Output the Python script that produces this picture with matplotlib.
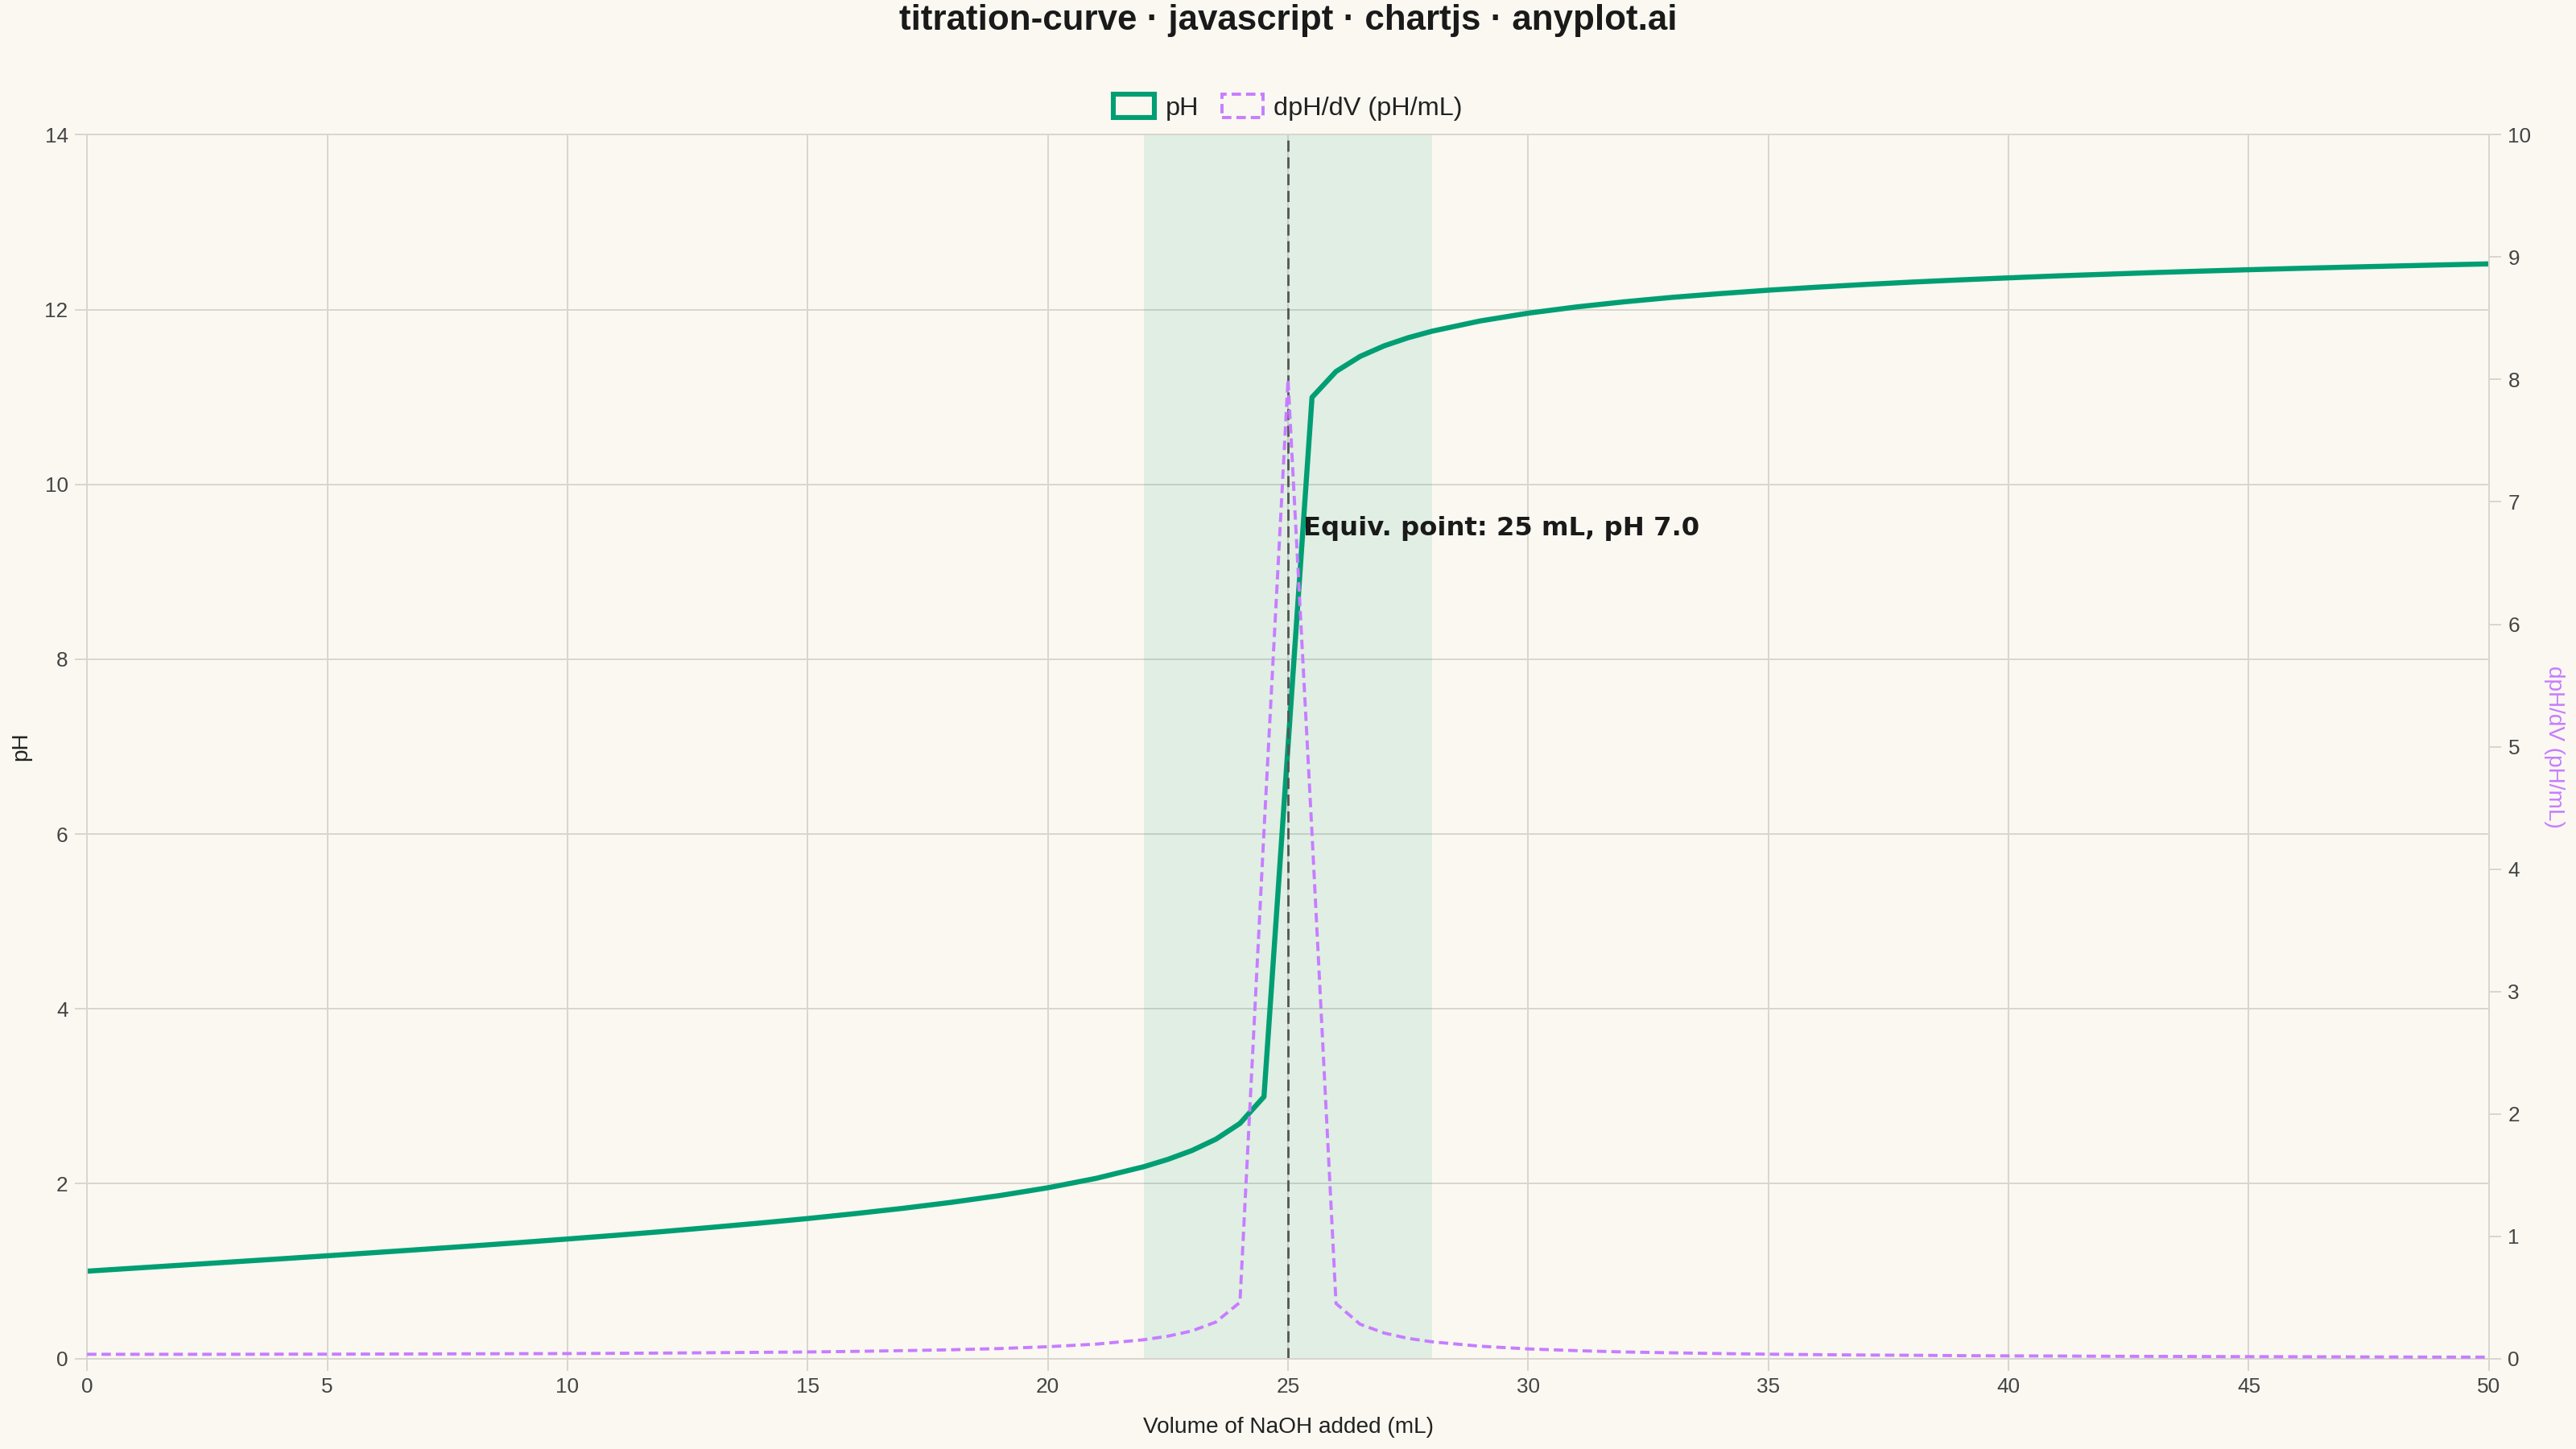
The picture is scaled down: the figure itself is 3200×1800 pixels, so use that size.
import matplotlib
matplotlib.use("Agg")
import matplotlib.pyplot as plt
from matplotlib.patches import Patch

# titration of 25 mL 0.1 M HCl with 0.1 M NaOH
volume = [0, 1, 2, 3, 4, 5, 6, 7, 8, 9, 10, 11, 12, 13, 14, 15, 16, 17, 18, 19, 20, 21, 22,
          22.5, 23, 23.5, 24, 24.5, 25, 25.5, 26, 26.5, 27, 27.5, 28,
          29, 30, 31, 32, 33, 34, 35, 36, 37, 38, 39, 40, 41, 42, 43, 44, 45, 46, 47, 48, 49, 50]
ph = [1.000, 1.035, 1.070, 1.105, 1.140, 1.176, 1.213, 1.250, 1.288, 1.327, 1.368, 1.410,
      1.454, 1.501, 1.550, 1.602, 1.659, 1.720, 1.788, 1.865, 1.954, 2.061, 2.195,
      2.279, 2.380, 2.510, 2.690, 2.996, 7.000, 10.996, 11.292, 11.464, 11.585, 11.678, 11.753,
      11.870, 11.959, 12.030, 12.089, 12.140, 12.183, 12.222, 12.256, 12.287, 12.315, 12.340,
      12.363, 12.385, 12.404, 12.423, 12.440, 12.456, 12.471, 12.485, 12.498, 12.511, 12.523]
dph_dv = [0.035, 0.035, 0.035, 0.035, 0.036, 0.036, 0.037, 0.038, 0.039, 0.040, 0.041, 0.043,
          0.045, 0.048, 0.051, 0.054, 0.059, 0.065, 0.072, 0.082, 0.097, 0.118, 0.154,
          0.183, 0.226, 0.299, 0.460, 4.310, 8.000, 4.290, 0.450, 0.281, 0.209, 0.165, 0.137,
          0.101, 0.079, 0.065, 0.054, 0.047, 0.041, 0.036, 0.032, 0.029, 0.027, 0.024,
          0.022, 0.021, 0.019, 0.018, 0.017, 0.016, 0.015, 0.014, 0.013, 0.012, 0.012]

equiv_volume = 25
equiv_ph = 7.0
band = (22, 28)

x_ticks = list(range(0, 51, 5))
ph_ticks = list(range(0, 15, 2))
deriv_ticks = list(range(0, 11))

BG = "#FAF8F1"
GREEN = "#009E73"
PURPLE = "#C77DFF"
GRID = "#D8D6CE"
TEXT = "#444444"

plt.rcParams["font.family"] = ["Liberation Sans", "DejaVu Sans"]

fig = plt.figure(figsize=(16, 9), dpi=200, facecolor=BG)
ax = fig.add_axes([0.0338, 0.0624, 0.9324, 0.8446])
ax.set_facecolor(BG)
ax2 = ax.twinx()

ax.axvspan(band[0], band[1], color=GREEN, alpha=0.1, lw=0, zorder=1)
ax.plot(volume, ph, color=GREEN, lw=2.3, zorder=4, solid_joinstyle="round")
ax2.plot(volume, dph_dv, color=PURPLE, lw=1.4, linestyle=(0, (3.0, 1.6)), zorder=3)
ax.axvline(equiv_volume, color="#555555", lw=1.0, linestyle=(0, (5, 2.5)), zorder=5)

ax.text(equiv_volume + 0.32, 9.5, f"Equiv. point: {equiv_volume} mL, pH {equiv_ph:.1f}",
        family="DejaVu Sans", fontweight="bold", fontsize=11.6, color="#1a1a1a",
        va="center", ha="left", zorder=6)

ax.set_xlim(0, 50)
ax.set_ylim(0, 14)
ax2.set_ylim(0, 10)
ax.set_xticks(x_ticks)
ax.set_yticks(ph_ticks)
ax2.set_yticks(deriv_ticks)

ax.grid(True, color=GRID, lw=0.7)
ax.set_axisbelow(True)
for a in (ax, ax2):
    for s in a.spines.values():
        s.set_color(GRID)
        s.set_linewidth(0.7)
    a.tick_params(colors=GRID, labelcolor=TEXT, labelsize=9.4, length=5.5, width=0.7, pad=3)
ax2.patch.set_visible(False)

ax.set_xlabel("Volume of NaOH added (mL)", fontsize=10.1, color="#222222", labelpad=9)
ax.set_ylabel("pH", fontsize=10.1, color="#222222", labelpad=6)
ax2.set_ylabel("dpH/dV (pH/mL)", fontsize=10.1, color=PURPLE, rotation=-90, labelpad=15)

fig.suptitle("titration-curve · javascript · chartjs · anyplot.ai", fontsize=15.8,
             fontweight="bold", color="#1a1a1a", y=0.986, va="center")

handles = [Patch(facecolor="none", edgecolor=GREEN, lw=2.2, label="pH"),
           Patch(facecolor="none", edgecolor=PURPLE, lw=1.4, linestyle=(0, (3, 1.6)),
                 label="dpH/dV (pH/mL)")]
fig.legend(handles=handles, loc="center", bbox_to_anchor=(0.5, 0.926), ncol=2,
           frameon=False, fontsize=11.7, handlelength=1.55, handleheight=1.0,
           handletextpad=0.42, columnspacing=0.9, labelcolor="#222222")

fig.savefig("out.png", dpi=200, facecolor=BG)
